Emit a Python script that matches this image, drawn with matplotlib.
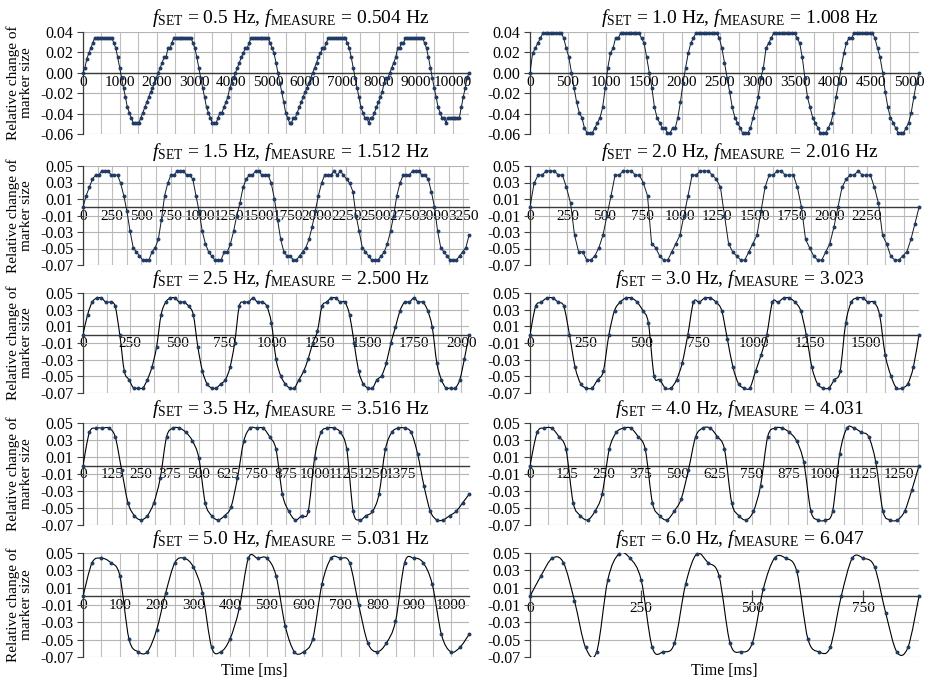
import numpy as np
import matplotlib
matplotlib.use('Agg')
import matplotlib.pyplot as plt
from matplotlib.path import Path
from matplotlib.patches import PathPatch

plt.rcParams['font.family'] = ['Liberation Serif', 'DejaVu Serif']
plt.rcParams['mathtext.fontset'] = 'custom'
plt.rcParams['mathtext.rm'] = 'Liberation Serif'
plt.rcParams['mathtext.it'] = 'Liberation Serif:italic'
plt.rcParams['axes.unicode_minus'] = False

# ---- data (relative change of marker size) ----
f_set = ['0.5', '1.0', '1.5', '2.0', '2.5', '3.0', '3.5', '4.0', '5.0', '6.0']
f_meas = ['0.504 Hz', '1.008 Hz', '1.512 Hz', '2.016 Hz', '2.500 Hz',
          '3.023', '3.516 Hz', '4.031', '5.031 Hz', '6.047']

# time of the last sample [ms] for each panel
spans = [10433, 5130, 3300, 2600, 2040, 1737, 1667, 1317, 1049, 875]

y05 = [0.000, 0.005, 0.014, 0.019, 0.024, 0.029,
       0.034, 0.034, 0.034, 0.034, 0.034, 0.034, 0.034, 0.034, 0.034, 0.034,
       0.029, 0.024, 0.015, 0.005, -0.005, -0.015, -0.024, -0.034, -0.039, -0.044,
       -0.049, -0.049, -0.049, -0.049,
       -0.044, -0.039, -0.034, -0.029, -0.024, -0.019, -0.015, -0.010, -0.005,
       0.000, 0.005, 0.010, 0.015, 0.015, 0.024, 0.024, 0.029,
       0.034, 0.034, 0.034, 0.034, 0.034, 0.034, 0.034, 0.034, 0.034, 0.034,
       0.029, 0.024, 0.015, 0.005, -0.005, -0.015, -0.024, -0.034, -0.039, -0.044,
       -0.049, -0.049, -0.049,
       -0.044, -0.039, -0.039, -0.034, -0.029, -0.024, -0.015, -0.010, -0.005,
       0.000, 0.005, 0.010, 0.015, 0.019, 0.024, 0.024, 0.029,
       0.034, 0.034, 0.034, 0.034, 0.034, 0.034, 0.034, 0.034, 0.034, 0.034,
       0.029, 0.024, 0.019, 0.010, 0.000, -0.010, -0.019, -0.029, -0.039, -0.044,
       -0.049, -0.049, -0.044,
       -0.044, -0.039, -0.034, -0.029, -0.024, -0.019, -0.015, -0.010, -0.005,
       0.000, 0.005, 0.010, 0.015, 0.019, 0.024, 0.024, 0.029,
       0.034, 0.034, 0.034, 0.034, 0.034, 0.034, 0.034, 0.034, 0.034, 0.034,
       0.029, 0.024, 0.015, 0.005, -0.005, -0.015, -0.024, -0.034, -0.039, -0.044,
       -0.044, -0.049, -0.044,
       -0.044, -0.039, -0.034, -0.029, -0.024, -0.019, -0.010, -0.005, -0.005,
       0.000, 0.005, 0.010, 0.015, 0.024, 0.024, 0.029, 0.029,
       0.034, 0.034, 0.034, 0.034, 0.034, 0.034, 0.034, 0.034, 0.034, 0.034,
       0.029, 0.024, 0.015, 0.005, -0.005, -0.015, -0.024, -0.034, -0.039,
       -0.044, -0.044, -0.049, -0.044, -0.044, -0.044, -0.044, -0.044, -0.044, -0.044,
       -0.034, -0.024, -0.015, -0.005, 0.000]

y10 = [0.000, 0.019, 0.024, 0.029, 0.034,
       0.039, 0.039, 0.039, 0.039, 0.039, 0.039, 0.039, 0.039,
       0.034, 0.024, 0.015, 0.000, -0.015, -0.029, -0.039, -0.044, -0.054,
       -0.059, -0.059, -0.059, -0.054, -0.049, -0.044, -0.034, -0.015,
       0.005, 0.019, 0.024, 0.034, 0.034,
       0.039, 0.039, 0.039, 0.039, 0.039, 0.039, 0.039, 0.039,
       0.034, 0.029, 0.015, 0.000, -0.015, -0.034, -0.044, -0.049, -0.054,
       -0.054, -0.059, -0.059, -0.054, -0.054, -0.044, -0.029, -0.010,
       0.005, 0.019, 0.029, 0.034, 0.039,
       0.039, 0.039, 0.039, 0.039, 0.039, 0.039, 0.039, 0.039,
       0.034, 0.024, 0.010, -0.005, -0.019, -0.034, -0.044, -0.049, -0.054,
       -0.059, -0.059, -0.059, -0.054, -0.044, -0.034, -0.024, -0.005,
       0.005, 0.024, 0.029, 0.034, 0.039,
       0.039, 0.039, 0.039, 0.039, 0.039, 0.039, 0.039, 0.039,
       0.034, 0.029, 0.015, -0.005, -0.024, -0.034, -0.044, -0.049, -0.054,
       -0.059, -0.059, -0.059, -0.054, -0.049, -0.039, -0.024, -0.010,
       0.005, 0.019, 0.029, 0.034, 0.034,
       0.039, 0.039, 0.039, 0.039, 0.039, 0.039, 0.039, 0.039,
       0.034, 0.024, 0.015, 0.000, -0.019, -0.034, -0.044, -0.049, -0.054,
       -0.059, -0.059, -0.059, -0.054, -0.049, -0.039, -0.024, -0.010,
       0.000]

y15 = [0.000, 0.014, 0.024, 0.034, 0.039, 0.039, 0.044, 0.044, 0.044, 0.039, 0.039, 0.039,
       0.029, 0.014, -0.005, -0.029, -0.049, -0.054, -0.059, -0.064, -0.064, -0.064,
       -0.054, -0.049, -0.039,
       -0.015, 0.014, 0.029, 0.039, 0.039, 0.044, 0.044, 0.044, 0.039, 0.039, 0.034, 0.014,
       -0.005, -0.029, -0.044, -0.054, -0.059, -0.064, -0.064, -0.064, -0.054, -0.054,
       -0.044, -0.029, -0.010,
       0.005, 0.024, 0.034, 0.039, 0.039, 0.044, 0.044, 0.039, 0.039, 0.039, 0.029, 0.010,
       -0.015, -0.039, -0.054, -0.059, -0.059, -0.064, -0.064, -0.059, -0.054, -0.049,
       -0.039, -0.024, -0.005,
       0.014, 0.029, 0.039, 0.039, 0.039, 0.044, 0.039, 0.044, 0.039, 0.034, 0.029, 0.019,
       -0.010, -0.029, -0.049, -0.054, -0.059, -0.064, -0.064, -0.064, -0.059, -0.054,
       -0.044, -0.029, -0.010,
       0.014, 0.029, 0.039, 0.039, 0.039, 0.044, 0.044, 0.044, 0.039, 0.039, 0.034, 0.019,
       0.000, -0.029, -0.049, -0.054, -0.059, -0.064, -0.064, -0.064, -0.059, -0.054,
       -0.049, -0.034]

y20 = [0.000, 0.029, 0.039, 0.039, 0.044, 0.044, 0.044, 0.039, 0.039, 0.024, 0.005,
       -0.034, -0.054, -0.054, -0.064, -0.064, -0.059, -0.049, -0.034,
       -0.010, 0.014, 0.039, 0.039, 0.044, 0.044, 0.044, 0.039, 0.039, 0.029, 0.014,
       -0.044, -0.049, -0.059, -0.064, -0.064, -0.054, -0.044, -0.034,
       -0.010, 0.014, 0.039, 0.039, 0.044, 0.044, 0.044, 0.039, 0.034, 0.024, -0.010,
       -0.044, -0.054, -0.059, -0.064, -0.064, -0.054, -0.044, -0.034,
       -0.005, 0.024, 0.039, 0.039, 0.044, 0.044, 0.039, 0.039, 0.039, 0.024, 0.000,
       -0.039, -0.049, -0.059, -0.064, -0.064, -0.054, -0.044, -0.024,
       0.000, 0.024, 0.034, 0.039, 0.039, 0.044, 0.039, 0.039, 0.039, 0.024, 0.005,
       -0.034, -0.044, -0.059, -0.064, -0.064, -0.059, -0.054, -0.039, -0.020, 0.000]

y25 = [0.000, 0.024, 0.039, 0.044, 0.044, 0.039, 0.039, 0.034, 0.000,
       -0.044, -0.054, -0.064, -0.064, -0.064, -0.054, -0.039, -0.015,
       0.024, 0.039, 0.044, 0.044, 0.039, 0.039, 0.034, 0.024, -0.015,
       -0.044, -0.059, -0.064, -0.064, -0.059, -0.054, -0.039, -0.010,
       0.034, 0.039, 0.039, 0.044, 0.039, 0.039, 0.034, 0.014, -0.029,
       -0.049, -0.059, -0.064, -0.064, -0.054, -0.044, -0.029, -0.010,
       0.004, 0.034, 0.039, 0.044, 0.044, 0.039, 0.039, 0.024, -0.010,
       -0.044, -0.059, -0.064, -0.064, -0.054, -0.049, -0.034, -0.010,
       0.009, 0.029, 0.039, 0.039, 0.044, 0.039, 0.039, 0.029, 0.009,
       -0.034, -0.054, -0.064, -0.064, -0.064, -0.054, -0.029, 0.000]

y30 = [0.000, 0.034, 0.039, 0.044, 0.044, 0.039, 0.034, 0.000,
       -0.039, -0.059, -0.064, -0.064, -0.054, -0.044,
       0.000, 0.029, 0.039, 0.044, 0.044, 0.039, 0.029, 0.014,
       -0.049, -0.054, -0.064, -0.064, -0.054, -0.034,
       0.000, 0.039, 0.039, 0.044, 0.044, 0.039, 0.029, -0.005,
       -0.039, -0.059, -0.064, -0.064, -0.044, -0.024,
       0.000, 0.039, 0.039, 0.044, 0.044, 0.039, 0.029, 0.000,
       -0.039, -0.059, -0.064, -0.064, -0.054, -0.044,
       0.014, 0.039, 0.044, 0.044, 0.039, 0.039, 0.024, -0.024,
       -0.049, -0.064, -0.064, -0.059, -0.039, 0.000]

y35 = [0.000, 0.039, 0.044, 0.044, 0.044, 0.034, -0.005, -0.044, -0.059, -0.064,
       -0.059, -0.044, -0.015,
       0.034, 0.044, 0.044, 0.039, 0.029, 0.009, -0.044, -0.059, -0.064, -0.059,
       -0.049, -0.015,
       0.029, 0.044, 0.044, 0.044, 0.034, 0.019, -0.034, -0.054, -0.064, -0.059, -0.054,
       0.009, 0.039, 0.044, 0.044, 0.039, 0.019, -0.054, -0.064, -0.059, -0.054, -0.034,
       0.019, 0.039, 0.044, 0.044, 0.039, 0.014, -0.024, -0.054, -0.064, -0.064, -0.059,
       -0.054, -0.044, -0.034]

y40 = [0.000, 0.039, 0.044, 0.044, 0.034, 0.019, -0.044, -0.059, -0.064, -0.054, -0.034,
       0.019, 0.039, 0.044, 0.044, 0.034, 0.019, -0.044, -0.059, -0.064, -0.054, -0.039,
       -0.005,
       0.034, 0.044, 0.044, 0.034, 0.019, -0.044, -0.059, -0.064, -0.054, -0.024,
       0.034, 0.044, 0.044, 0.039, 0.029, 0.004, -0.054, -0.064, -0.064, -0.054,
       0.014, 0.044, 0.044, 0.039, 0.034, 0.004, -0.054, -0.064, -0.064, -0.054, -0.029,
       0.000]

y50 = [0.000, 0.039, 0.044, 0.039, 0.024, -0.049, -0.064, -0.064, -0.039,
       0.004, 0.039, 0.044, 0.034, 0.004, -0.059, -0.064, -0.049, -0.014,
       0.044, 0.044, 0.044, 0.024, -0.034, -0.064, -0.064, -0.049,
       0.014, 0.044, 0.044, 0.039, -0.010, -0.054, -0.064, -0.054, -0.029,
       0.039, 0.044, 0.039, 0.014, -0.044, -0.064, -0.059, -0.044]

y60 = [0.000, 0.024, 0.044, 0.039, -0.005, -0.059, -0.064,
       0.019, 0.049, 0.044, 0.019, -0.059, -0.064, -0.054,
       0.014, 0.049, 0.039, 0.024, -0.054, -0.064, -0.054,
       0.009, 0.044, 0.044, 0.029, -0.049, -0.064, -0.059,
       0.000, 0.044, 0.044, 0.034, -0.019, -0.064, -0.059, 0.000]

series = [y05, y10, y15, y20, y25, y30, y35, y40, y50, y60]

# axis tick labels (x) per panel
xlabels = [list(range(0, 10001, 1000)), list(range(0, 5001, 500)),
           list(range(0, 3251, 250)), list(range(0, 2251, 250)),
           list(range(0, 2001, 250)), list(range(0, 1501, 250)),
           list(range(0, 1376, 125)), list(range(0, 1251, 125)),
           list(range(0, 1001, 100)), [0, 250, 500, 750]]
grid_steps = [500, 250, 125, 125, 125, 250 / 3, 62.5, 62.5, 50, None]
smooth = [False, False, False, False, True, True, True, True, True, True]

W, H = 928, 682
fig = plt.figure(figsize=(W / 100, H / 100), dpi=100)

col_x = [(83, 386), (530, 389)]
row_tops = [32, 166, 293, 423, 553]
row_bots = [134, 265, 393, 525, 657]

dot_color = '#1F3B66'


def smooth_path(x, y):
    pts = np.column_stack([x, y])
    verts = [pts[0]]
    codes = [Path.MOVETO]
    n = len(pts)
    for i in range(n - 1):
        p0 = pts[i - 1] if i > 0 else pts[i]
        p1 = pts[i]
        p2 = pts[i + 1]
        p3 = pts[i + 2] if i + 2 < n else pts[i + 1]
        verts += [p1 + (p2 - p0) / 6, p2 - (p3 - p1) / 6, p2]
        codes += [Path.CURVE4] * 3
    return Path(verts, codes)


for k in range(10):
    row, col = k // 2, k % 2
    x0, w = col_x[col]
    top, bot = row_tops[row], row_bots[row]
    h = bot - top
    ax = fig.add_axes([x0 / W, 1 - bot / H, w / W, h / H])

    y = np.array(series[k])
    t = np.linspace(0, spans[k], len(y))

    if k < 2:
        yt = [-0.06, -0.04, -0.02, 0.00, 0.02, 0.04]
    else:
        yt = [-0.07, -0.05, -0.03, -0.01, 0.01, 0.03, 0.05]
    ax.set_ylim(yt[0], yt[-1])
    ax.set_xlim(0, spans[k])
    ax.set_yticks(yt)
    ax.set_yticklabels(['%.2f' % v for v in yt])

    ax.set_xticks(xlabels[k])
    ax.set_xticklabels([str(v) for v in xlabels[k]])
    ax.grid(axis='y', color='#B4B4B4', lw=0.8)
    if grid_steps[k] is not None:
        ax.set_xticks(np.arange(0, spans[k] + 1, grid_steps[k]), minor=True)
        ax.grid(axis='x', which='both', color='#BEBEBE', lw=0.8)
        ax.tick_params(axis='x', which='major', length=0, pad=2)
    else:
        ax.tick_params(axis='x', which='major', direction='inout', length=8,
                       width=0.9, color='#404040', pad=0)
    ax.tick_params(axis='x', which='minor', length=0)
    ax.tick_params(axis='x', labelsize=11)
    ax.tick_params(axis='y', direction='out', length=4, width=0.8,
                   color='#404040', labelsize=11.5, pad=3)

    for s in ['top', 'right']:
        ax.spines[s].set_visible(False)
    ax.spines['bottom'].set_position(('data', 0))
    ax.spines['bottom'].set_color('#3A3A3A')
    ax.spines['bottom'].set_linewidth(1.0)
    ax.spines['left'].set_color('#3A3A3A')
    ax.spines['left'].set_linewidth(0.9)
    ax.set_axisbelow(True)

    if smooth[k]:
        ax.add_patch(PathPatch(smooth_path(t, y), fill=False, ec='black',
                               lw=0.8, zorder=3))
    else:
        ax.plot(t, y, '-', color='#101820', lw=0.7, zorder=3)
    ax.plot(t, y, 'o', color=dot_color, ms=2.8, mew=0, zorder=4, clip_on=False)

    title = (r'$f_{\mathrm{SET}}$ = %s Hz, $f_{\mathrm{MEASURE}}$ = %s'
             % (f_set[k], f_meas[k]))
    fig.text((x0 + w / 2 + 15) / W, 1 - (top - 14) / H, title, ha='center',
             va='center', fontsize=14)

    if col == 0:
        fig.text(20 / W, 1 - (top + h / 2) / H, 'Relative change of\nmarker size',
                 rotation=90, ha='center', va='center', fontsize=11,
                 linespacing=1.0)
    if row == 4:
        cx = x0 + w / 2 - (22 if col == 0 else 0)
        fig.text(cx / W, 1 - 671 / H, 'Time [ms]', ha='center',
                 va='center', fontsize=11.5)

fig.savefig('out.png', dpi=100)
